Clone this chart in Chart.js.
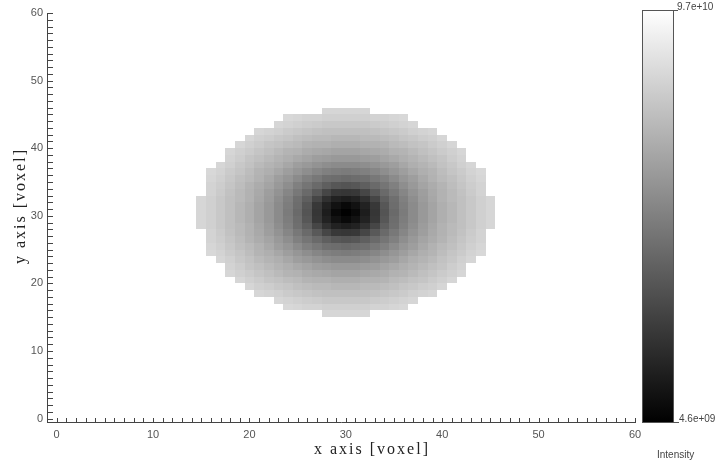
<!DOCTYPE html>
<html>
<head>
<meta charset="utf-8">
<script src="https://cdn.jsdelivr.net/npm/chart.js@4.4.1/dist/chart.umd.min.js"></script>
<style>
  html, body { margin: 0; padding: 0; background: #ffffff; }
  #wrap { width: 718px; height: 463px; position: relative; }
</style>
</head>
<body>
<div id="wrap"><canvas id="c" width="718" height="463"></canvas></div>
<script>
// ---------------- DATA ----------------
// voxel rows (y index, top to bottom) of the filled ellipse
const rowY = [45,44,43,42,41,40,39,38,37,36,35,34,33,32,31,30,29,28,27,26,25,24,23,22,21,20,19,18,17,16,15];
// first x voxel of each row
const rowXStart = [28,24,23,21,20,19,18,18,17,16,16,16,16,15,15,15,15,15,16,16,16,16,17,18,18,19,20,21,23,24,28];
// intensity of each voxel in the row, in units of 1e9
const rowIntensity = [
  [82,82,82,82,82],
  [83,82,81,81,80,80,80,80,80,81,81,82,83],
  [82,81,80,79,78,77,77,77,77,77,78,79,80,81,82],
  [82,81,80,78,77,76,75,74,74,74,74,74,75,76,77,78,80,81,82],
  [82,80,79,77,76,74,73,72,72,71,71,71,72,72,73,74,76,77,79,80,82],
  [82,80,78,76,75,73,72,70,69,69,68,68,68,69,69,70,72,73,75,76,78,80,82],
  [82,80,78,76,74,72,70,69,67,66,65,64,64,64,65,66,67,69,70,72,74,76,78,80,82],
  [81,79,76,74,72,70,68,66,64,62,61,60,60,60,61,62,64,66,68,70,72,74,76,79,81],
  [82,80,77,75,72,70,68,65,62,60,58,56,55,55,55,56,58,60,62,65,68,70,72,75,77,80,82],
  [83,81,78,76,73,70,68,65,62,59,56,53,51,50,49,50,51,53,56,59,62,65,68,70,73,76,78,81,83],
  [82,80,77,74,72,69,66,62,59,55,51,48,45,44,43,44,45,48,51,55,59,62,66,69,72,74,77,80,82],
  [81,79,76,73,70,67,64,60,56,51,47,43,39,36,35,36,39,43,47,51,56,60,64,67,70,73,76,79,81],
  [81,78,75,72,69,66,62,58,53,48,43,37,30,25,24,25,30,37,43,48,53,58,62,66,69,72,75,78,81],
  [82,80,77,74,72,69,65,61,56,51,45,39,30,22,17,15,17,22,30,39,45,51,56,61,65,69,72,74,77,80,82],
  [82,80,77,74,71,68,64,60,55,50,44,36,25,17,11,8,11,17,25,36,44,50,55,60,64,68,71,74,77,80,82],
  [82,80,77,74,71,68,64,60,55,49,43,35,24,15,8,5,8,15,24,35,43,49,55,60,64,68,71,74,77,80,82],
  [82,80,77,74,71,68,64,60,55,50,44,36,25,17,11,8,11,17,25,36,44,50,55,60,64,68,71,74,77,80,82],
  [82,80,77,74,72,69,65,61,56,51,45,39,30,22,17,15,17,22,30,39,45,51,56,61,65,69,72,74,77,80,82],
  [81,78,75,72,69,66,62,58,53,48,43,37,30,25,24,25,30,37,43,48,53,58,62,66,69,72,75,78,81],
  [81,79,76,73,70,67,64,60,56,51,47,43,39,36,35,36,39,43,47,51,56,60,64,67,70,73,76,79,81],
  [82,80,77,74,72,69,66,62,59,55,51,48,45,44,43,44,45,48,51,55,59,62,66,69,72,74,77,80,82],
  [83,81,78,76,73,70,68,65,62,59,56,53,51,50,49,50,51,53,56,59,62,65,68,70,73,76,78,81,83],
  [82,80,77,75,72,70,68,65,62,60,58,56,55,55,55,56,58,60,62,65,68,70,72,75,77,80,82],
  [81,79,76,74,72,70,68,66,64,62,61,60,60,60,61,62,64,66,68,70,72,74,76,79,81],
  [82,80,78,76,74,72,70,69,67,66,65,64,64,64,65,66,67,69,70,72,74,76,78,80,82],
  [82,80,78,76,75,73,72,70,69,69,68,68,68,69,69,70,72,73,75,76,78,80,82],
  [82,80,79,77,76,74,73,72,72,71,71,71,72,72,73,74,76,77,79,80,82],
  [82,81,80,78,77,76,75,74,74,74,74,74,75,76,77,78,80,81,82],
  [82,81,80,79,78,77,77,77,77,77,78,79,80,81,82],
  [83,82,81,81,80,80,80,80,80,81,81,82,83],
  [82,82,82,82,82]
];
const intensityUnit = 1e9;
const intensityMin = 4.6e9;   // colour bar bottom (black)
const intensityMax = 9.7e10;  // colour bar top (white)
const colorbarLabels = ['9.7e+10', '4.6e+09'];
const colorbarTitle = 'Intensity';
const xTickValues = [0, 10, 20, 30, 40, 50, 60];
const yTickValues = [0, 10, 20, 30, 40, 50, 60];
const xTitle = 'x axis [voxel]';
const yTitle = 'y axis [voxel]';

// ---------------- BUILD POINTS ----------------
const voxels = [];
rowY.forEach((y, r) => {
  rowIntensity[r].forEach((v, k) => {
    voxels.push({ x: rowXStart[r] + k, y: y, v: v * intensityUnit });
  });
});

function grayFor(v) {
  let t = (v - intensityMin) / (intensityMax - intensityMin);
  t = Math.max(0, Math.min(1, t));
  const g = Math.round(t * 255);
  return 'rgb(' + g + ',' + g + ',' + g + ')';
}

const AXIS_COLOR = '#444444';
const TICK_FONT = { family: 'Liberation Sans, Arial, sans-serif', size: 11 };

// draw voxel cells through the scales
const cellPlugin = {
  id: 'cells',
  beforeDatasetsDraw(chart) {
    const ctx = chart.ctx, xs = chart.scales.x, ys = chart.scales.y, a = chart.chartArea;
    ctx.save();
    ctx.beginPath();
    ctx.rect(a.left, a.top, a.right - a.left, a.bottom - a.top);
    ctx.clip();
    chart.data.datasets[0].data.forEach(p => {
      const x0 = Math.round(xs.getPixelForValue(p.x - 0.5));
      const x1 = Math.round(xs.getPixelForValue(p.x + 0.5));
      const y0 = Math.round(ys.getPixelForValue(p.y + 1));
      const y1 = Math.round(ys.getPixelForValue(p.y));
      ctx.fillStyle = grayFor(p.v);
      ctx.fillRect(x0, y0, x1 - x0, y1 - y0);
    });
    ctx.restore();
  }
};

// inward minor ticks + titles + colour bar
const decorPlugin = {
  id: 'decor',
  afterDraw(chart) {
    const ctx = chart.ctx, xs = chart.scales.x, ys = chart.scales.y, a = chart.chartArea;
    ctx.save();
    ctx.strokeStyle = AXIS_COLOR;
    ctx.lineWidth = 1;
    ctx.beginPath();
    for (let v = 0; v <= 60; v++) {
      const px = Math.round(xs.getPixelForValue(v)) + 0.5;
      ctx.moveTo(px, a.bottom);
      ctx.lineTo(px, a.bottom - 4);
      const py = Math.round(ys.getPixelForValue(v)) + 0.5;
      ctx.moveTo(a.left, py);
      ctx.lineTo(a.left + 6, py);
    }
    ctx.stroke();

    // axis titles
    ctx.fillStyle = '#222222';
    ctx.font = '16px "Liberation Serif", "Times New Roman", serif';
    try { ctx.letterSpacing = '2px'; } catch (e) {}
    ctx.textAlign = 'center';
    ctx.textBaseline = 'alphabetic';
    ctx.fillText(xTitle, 372, 454);
    ctx.save();
    ctx.translate(25, 206);
    ctx.rotate(-Math.PI / 2);
    ctx.fillText(yTitle, 0, 0);
    ctx.restore();
    try { ctx.letterSpacing = '0px'; } catch (e) {}

    // colour bar
    const cbL = 642, cbR = 674, cbT = 10, cbB = 423;
    const grad = ctx.createLinearGradient(0, cbB, 0, cbT);
    grad.addColorStop(0, grayFor(intensityMin));
    grad.addColorStop(1, grayFor(intensityMax));
    ctx.fillStyle = grad;
    ctx.fillRect(cbL, cbT, cbR - cbL, cbB - cbT);
    ctx.strokeStyle = '#555555';
    ctx.strokeRect(cbL + 0.5, cbT + 0.5, cbR - cbL - 1, cbB - cbT - 1);

    ctx.beginPath();
    ctx.moveTo(cbR, cbT + 0.5); ctx.lineTo(cbR + 4, cbT + 0.5);
    ctx.moveTo(cbR, cbB - 0.5); ctx.lineTo(cbR + 5, cbB - 0.5);
    ctx.stroke();

    ctx.fillStyle = '#444444';
    ctx.font = '10px "Liberation Sans", Arial, sans-serif';
    ctx.textAlign = 'left';
    ctx.textBaseline = 'alphabetic';
    ctx.fillText(colorbarLabels[0], cbR + 3, cbT);
    ctx.fillText(colorbarLabels[1], cbR + 5, cbB - 1);
    ctx.fillText(colorbarTitle, 657, 458);
    ctx.restore();
  }
};

new Chart(document.getElementById('c'), {
  type: 'scatter',
  data: {
    datasets: [{
      label: 'Intensity',
      data: voxels,
      pointRadius: 0,
      pointHoverRadius: 0,
      showLine: false
    }]
  },
  options: {
    responsive: false,
    devicePixelRatio: 1,
    animation: false,
    layout: { padding: { left: 0, right: 83, top: 13, bottom: 0 } },
    plugins: { legend: { display: false }, tooltip: { enabled: false } },
    scales: {
      x: {
        type: 'linear',
        position: 'bottom',
        min: -1,
        max: 60,
        afterBuildTicks: s => { s.ticks = xTickValues.map(v => ({ value: v })); },
        afterFit: s => { s.height = 41; },
        grid: { display: false, drawTicks: false },
        border: { display: true, color: AXIS_COLOR, width: 1 },
        ticks: { color: '#555555', font: TICK_FONT, padding: 6, maxRotation: 0, autoSkip: false }
      },
      y: {
        type: 'linear',
        position: 'left',
        min: -0.5,
        max: 60,
        afterBuildTicks: s => { s.ticks = yTickValues.map(v => ({ value: v })); },
        afterFit: s => { s.width = 47; },
        grid: { display: false, drawTicks: false },
        border: { display: true, color: AXIS_COLOR, width: 1 },
        ticks: { color: '#555555', font: TICK_FONT, padding: 4, autoSkip: false }
      }
    }
  },
  plugins: [cellPlugin, decorPlugin]
});
</script>
</body>
</html>
